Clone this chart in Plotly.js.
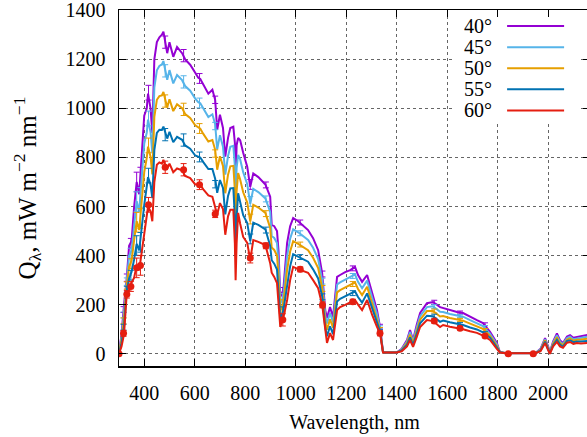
<!DOCTYPE html>
<html>
<head>
<meta charset="utf-8">
<script src="https://cdn.plot.ly/plotly-3.0.1.min.js"></script>
<style>
  html, body { margin: 0; padding: 0; overflow: hidden; background: #fff; }
  #chart { width: 590px; height: 437px; }
</style>
</head>
<body>
<div id="chart"></div>
<script>
// Wavelength grid (nm) of the model curves
const wavelength = [
  300,310,320,330,340,350,360,370,380,390,
  400,410,415,425,432,440,450,460,470,476,
  485,491,500,515,530,550,562,582,602,614,
  622,634,654,670,681,689,700,712,721,732,
  741,753,759,762,766,772,780,792,808,820,
  832,852,880,899,905,915,926,932,939,951,
  966,978,990,1010,1030,1049,1069,1089,1105,1117,
  1124,1136,1148,1164,1176,1196,1216,1235,1247,1263,
  1283,1303,1322,1334,1346,1354,1400,1420,1441,1453,
  1465,1480,1493,1520,1544,1572,1584,1611,1639,1663,
  1691,1718,1742,1770,1797,1809,1830,1950,1970,1988,
  2000,2007,2020,2035,2047,2059,2075,2087,2100,2114,
  2130,2154,2170
];
// Q_lambda, mW m^-2 nm^-1, for each solar zenith angle
const q40 = [
  0,80,200,300,440,460,600,700,650,800,
  970,1000,1060,1000,900,1200,1270,1290,1300,1313,
  1260,1225,1270,1210,1250,1225,1200,1178,1145,1125,
  1120,1097,1060,1076,1035,913,974,920,803,880,
  920,925,860,700,850,880,870,819,762,680,
  735,720,690,640,525,520,500,420,231,260,
  452,520,553,540,520,504,471,422,328,178,
  146,190,150,313,321,333,341,354,321,293,
  321,246,178,110,7,5,5,20,56,97,
  56,120,166,206,211,190,186,178,170,166,
  150,137,125,89,44,7,3,3,20,64,
  30,7,50,83,55,44,70,76,65,68,
  72,76,70
];
const q45 = [
  0,68,172,285,399,421,533,622,579,713,
  857,901,954,903,817,1085,1155,1173,1179,1193,
  1145,1117,1156,1102,1136,1115,1091,1072,1040,1025,
  1021,999,965,976,935,833,891,844,730,806,
  843,847,766,608,758,810,792,740,691,611,
  672,659,633,578,480,472,451,369,203,234,
  398,469,507,495,478,464,432,386,298,156,
  123,166,128,282,291,302,311,323,293,267,
  298,226,162,104,7,5,5,18,50,88,
  50,108,153,190,193,171,170,162,155,151,
  137,125,113,81,38,7,3,3,18,59,
  27,5,45,75,49,39,64,70,59,62,
  65,69,64
];
const q50 = [
  0,57,144,269,355,380,464,540,504,621,
  740,798,844,803,731,965,1035,1050,1053,1067,
  1025,1004,1037,989,1017,1001,977,961,931,921,
  917,896,865,871,831,750,805,765,654,730,
  764,766,667,512,662,736,710,658,616,540,
  607,596,574,513,433,423,400,317,174,206,
  342,417,459,448,434,422,391,349,267,134,
  98,140,106,250,259,270,280,291,264,239,
  273,205,146,98,6,5,5,15,44,78,
  43,97,139,174,174,152,154,146,139,135,
  123,113,101,73,33,6,3,3,15,55,
  23,4,41,67,43,35,58,63,53,57,
  58,61,57
];
const q55 = [
  0,43,111,252,307,334,385,448,421,519,
  607,682,720,689,634,830,900,913,912,926,
  890,877,904,862,884,872,849,836,808,803,
  800,781,753,753,713,656,708,676,568,643,
  674,675,557,404,554,654,618,565,533,459,
  534,525,507,439,381,367,343,257,141,176,
  280,357,406,396,385,375,344,307,233,108,
  71,112,80,213,224,234,245,254,231,208,
  246,181,128,91,6,5,5,13,37,67,
  35,83,124,155,153,130,135,128,122,117,
  107,99,87,65,26,6,2,2,13,49,
  19,2,35,57,37,29,52,55,47,50,
  50,52,49
];
const q60 = [
  0,30,80,235,260,290,310,360,340,420,
  480,570,600,580,540,700,770,780,775,790,
  760,755,775,740,755,748,725,716,690,690,
  688,670,645,640,600,566,614,590,485,560,
  587,587,450,300,450,574,530,476,452,382,
  463,456,443,369,330,313,288,200,109,146,
  219,300,354,345,338,330,300,267,199,84,
  44,84,56,178,190,199,211,219,200,178,
  219,158,110,84,5,5,5,10,30,56,
  28,70,109,137,133,109,117,110,105,100,
  92,85,74,56,20,5,2,2,10,44,
  15,0,30,48,30,24,45,48,40,44,
  42,44,42
];
// Measured points with error bars
const measWl = [300,318,331,347,370,385,417,483,556,619,681,820,882,949,1018,1106,1226,1334,1549,1651,1750,1842,1941];
const m40 = [0,180,310,450,700,720,1064,1270,1215,1122,1035,690,688,245,535,325,348,110,210,168,120,0,0];
const m45 = [0,158,294,410,620,637,959,1153,1108,1022,928,621,631,220,491,296,317,104,192,153,109,0,0];
const m50 = [0,134,278,367,536,551,849,1030,996,918,816,549,571,195,445,266,284,97,174,138,97,0,0];
const m55 = [0,108,260,320,441,454,726,893,871,802,691,468,504,166,394,232,247,90,153,121,84,0,0];
const m60 = [0,83,242,274,350,360,607,760,750,689,570,390,440,138,344,199,212,83,133,104,72,0,0];
const measErr = [0,12,15,20,40,40,30,25,25,20,15,20,12,25,10,12,10,10,8,6,6,4,4];

// axis ticks
const xTicks = [400,600,800,1000,1200,1400,1600,1800,2000];
const yTicks = [0,200,400,600,800,1000,1200,1400];

const labels = ['40°','45°','50°','55°','60°'];
const colors = ['#9400d3','#56b4e9','#e69f00','#0072b2','#e51e10'];
const curves = [q40,q45,q50,q55,q60];
const meas = [m40,m45,m50,m55,m60];

const FONT = 'Liberation Serif, Times New Roman, serif';
const traces = [];
for (let i = 0; i < labels.length; i++) {
  traces.push({
    x: wavelength, y: curves[i], type: 'scatter', mode: 'lines',
    name: labels[i], line: {color: colors[i], width: 2}, showlegend: false,
    hoverinfo: 'skip'
  });
  traces.push({
    x: measWl, y: meas[i], type: 'scatter', mode: 'markers',
    name: labels[i] + ' meas', showlegend: false,
    marker: {color: colors[i], size: i === 4 ? 7 : 1},
    error_y: {type: 'data', array: measErr, visible: true, color: colors[i], thickness: 1, width: 3}
  });
}

// legend in gnuplot style: text on the left, line sample on the right
const annotations = [];
const shapes = [{
  type: 'rect', xref: 'paper', yref: 'paper', x0: 0.713, x1: 0.975, y0: 0.688, y1: 0.980,
  fillcolor: '#ffffff', line: {width: 0}, layer: 'above'
}];
const rowTop = 0.955, rowStep = 0.0593;
for (let i = 0; i < labels.length; i++) {
  const yy = rowTop - i * rowStep;
  annotations.push({
    xref: 'paper', yref: 'paper', x: 0.796, y: yy, xanchor: 'right', yanchor: 'middle',
    text: labels[i], showarrow: false, font: {family: FONT, size: 20, color: '#000'}
  });
  shapes.push({
    type: 'line', xref: 'paper', yref: 'paper', x0: 0.824, x1: 0.945, y0: yy, y1: yy,
    line: {color: colors[i], width: 2}, layer: 'above'
  });
}

const axisCommon = {
  showline: true, linecolor: '#000', linewidth: 1.5, mirror: 'ticks',
  ticks: 'inside', ticklen: 7, tickwidth: 1, tickcolor: '#000',
  showgrid: true, gridcolor: '#666', gridwidth: 1, griddash: 'dot',
  zeroline: false, ticklabeloverflow: 'allow',
  tickfont: {family: FONT, size: 20, color: '#000'}
};

const layout = {
  width: 590, height: 437,
  margin: {l: 119, r: 0, t: 10, b: 71},
  paper_bgcolor: '#fff', plot_bgcolor: '#fff',
  font: {family: FONT, size: 20, color: '#000'},
  showlegend: false,
  xaxis: Object.assign({}, axisCommon, {
    range: [300, 2166], tickmode: 'array', tickvals: xTicks, ticklabelstandoff: 8,
    title: {text: 'Wavelength, nm', font: {family: FONT, size: 20, color: '#000'}, standoff: 12}
  }),
  yaxis: Object.assign({}, axisCommon, {
    range: [-50, 1401], tickmode: 'array', tickvals: yTicks, ticklabelstandoff: 8,
    title: {text: 'Q<sub>λ</sub>, mW m<sup>−2</sup> nm<sup>−1</sup>', font: {family: FONT, size: 25, color: '#000'}, standoff: 22}
  }),
  annotations: annotations,
  shapes: shapes
};

Plotly.newPlot('chart', traces, layout, {displayModeBar: false, staticPlot: true});
</script>
</body>
</html>
